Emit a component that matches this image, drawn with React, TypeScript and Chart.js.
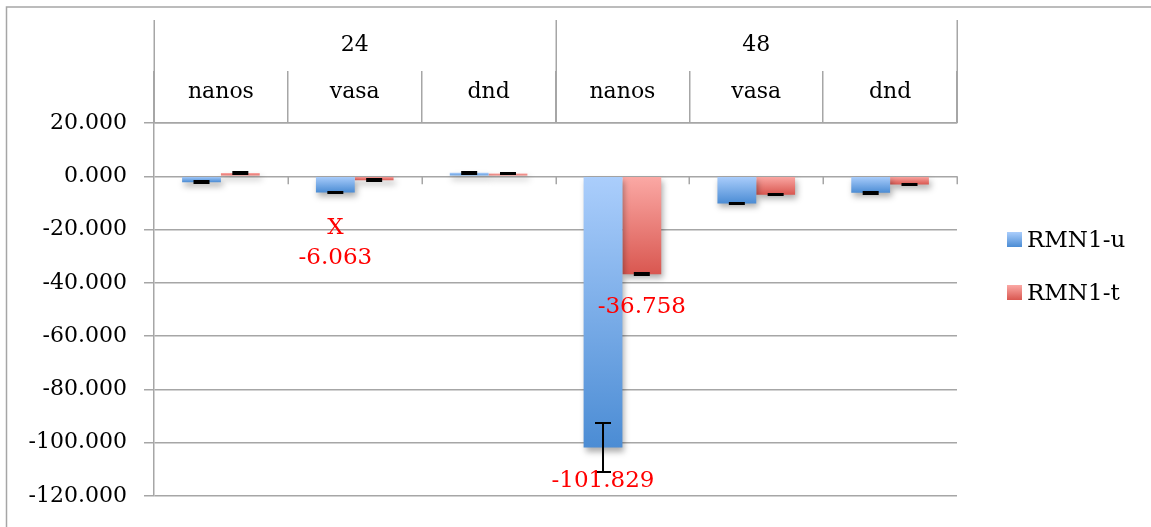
import React, { useEffect, useRef } from 'react';
import { Chart, registerables } from 'chart.js';

Chart.register(...registerables);

// ---------- data ----------
const categories = ['nanos', 'vasa', 'dnd', 'nanos', 'vasa', 'dnd'];
const groups = ['24', '48'];
const groupSize = 3;
const seriesNames = ['RMN1-u', 'RMN1-t'];
const rmn1u = [-2.2, -6.063, 1.3, -101.829, -10.2, -6.2];
const rmn1t = [1.2, -1.5, 1.0, -36.758, -6.9, -3.1];
const errU = [0.3, 0.3, 0.3, 9.3, 0.3, 0.3];
const errT = [0.3, 0.3, 0.3, 0.3, 0.3, 0.3];
const yMin = -120;
const yMax = 20;
const yStep = 20;
// value call-outs: series index, category index, optional extra line above
const callouts = [
  { series: 0, index: 1, extra: 'X' },
  { series: 1, index: 3, extra: '' },
  { series: 0, index: 3, extra: '' },
];

// ---------- styles ----------
const FONT = '"DejaVu Serif", serif';
const GRID = '#a6a6a6';
const GRAD = [
  ['#abcefc', '#4b8cd4'],
  ['#fba9a5', '#d95750'],
];
const calloutStyle = [
  { dx: 0, dy: 66, extraDy: 36 },
  { dx: 0, dy: 33, extraDy: 0 },
  { dx: 0, dy: 33, extraDy: 0 },
];

function barGradient(c: CanvasRenderingContext2D, top: number, bottom: number, s: number) {
  const g = c.createLinearGradient(0, top, 0, bottom);
  g.addColorStop(0, GRAD[s][0]);
  g.addColorStop(1, GRAD[s][1]);
  return g;
}

function bgFor(s: number) {
  return (ctx: any) => {
    const chart = ctx.chart;
    const y = chart.scales && chart.scales.y;
    if (!y || ctx.type !== 'data' || ctx.raw == null) return GRAD[s][1];
    const p0 = y.getPixelForValue(0);
    const p1 = y.getPixelForValue(ctx.raw);
    if (!isFinite(p0) || !isFinite(p1) || p0 === p1) return GRAD[s][1];
    return barGradient(chart.ctx, Math.min(p0, p1), Math.max(p0, p1), s);
  };
}

const errors = [errU, errT];

const decorPlugin = {
  id: 'decor',
  beforeDraw(chart: any) {
    const { ctx } = chart;
    ctx.save();
    ctx.strokeStyle = GRID;
    ctx.lineWidth = 1.5;
    ctx.beginPath();
    ctx.moveTo(6.5, 600);
    ctx.lineTo(6.5, 7);
    ctx.lineTo(1200, 7);
    ctx.stroke();
    ctx.restore();
  },
  beforeDatasetsDraw(chart: any) {
    const { ctx } = chart;
    ctx.save();
    ctx.shadowColor = 'rgba(0,0,0,0.32)';
    ctx.shadowBlur = 6;
    ctx.shadowOffsetX = 2;
    ctx.shadowOffsetY = 4;
  },
  afterDatasetsDraw(chart: any) {
    const { ctx, scales } = chart;
    ctx.restore();
    const y = scales.y;
    // error bars
    ctx.save();
    ctx.strokeStyle = '#000';
    ctx.lineWidth = 2;
    chart.data.datasets.forEach((ds: any, s: number) => {
      const meta = chart.getDatasetMeta(s);
      meta.data.forEach((bar: any, i: number) => {
        const v = ds.data[i];
        const e = errors[s][i];
        const yt = Math.round(y.getPixelForValue(v + e));
        const yb = Math.round(y.getPixelForValue(v - e));
        const x = bar.x;
        ctx.beginPath();
        ctx.moveTo(x, yt);
        ctx.lineTo(x, yb);
        ctx.moveTo(x - 8, yt);
        ctx.lineTo(x + 8, yt);
        ctx.moveTo(x - 8, yb);
        ctx.lineTo(x + 8, yb);
        ctx.stroke();
      });
    });
    ctx.restore();
    // call-outs
    ctx.save();
    ctx.fillStyle = '#ff0000';
    ctx.font = `23px ${FONT}`;
    ctx.textAlign = 'center';
    ctx.textBaseline = 'middle';
    callouts.forEach((c, k) => {
      const st = calloutStyle[k];
      const bar = chart.getDatasetMeta(c.series).data[c.index];
      const v = chart.data.datasets[c.series].data[c.index];
      const yEnd = y.getPixelForValue(v);
      ctx.fillText(v.toFixed(3), bar.x + st.dx, yEnd + st.dy);
      if (c.extra) ctx.fillText(c.extra, bar.x + st.dx, yEnd + st.extraDy);
    });
    ctx.restore();
  },
  afterDraw(chart: any) {
    const { ctx, chartArea, scales } = chart;
    const x = scales.x;
    const y = scales.y;
    const n = categories.length;
    const bound = (i: number) =>
      i <= 0 ? x.left : i >= n ? x.right : (x.getPixelForValue(i - 1) + x.getPixelForValue(i)) / 2;
    ctx.save();
    ctx.strokeStyle = GRID;
    ctx.lineWidth = 1.5;
    // group dividers
    for (let g = 0; g <= groups.length; g++) {
      const px = Math.round(bound(g * groupSize)) + 0.25;
      ctx.beginPath();
      ctx.moveTo(px, 20);
      ctx.lineTo(px, chartArea.top);
      ctx.stroke();
    }
    // tick marks below zero line
    const y0 = y.getPixelForValue(0);
    for (let i = 1; i <= n; i++) {
      const px = Math.round(bound(i)) + 0.25;
      ctx.beginPath();
      ctx.moveTo(px, y0);
      ctx.lineTo(px, y0 + 8);
      ctx.stroke();
    }
    // group labels
    ctx.fillStyle = '#000';
    ctx.font = `22px ${FONT}`;
    ctx.textAlign = 'center';
    ctx.textBaseline = 'middle';
    groups.forEach((gl, g) => {
      const cx = (bound(g * groupSize) + bound((g + 1) * groupSize)) / 2;
      ctx.fillText(gl, cx, 45);
    });
    // legend
    ctx.font = `23px ${FONT}`;
    ctx.textAlign = 'left';
    seriesNames.forEach((name, s) => {
      const top = 232 + s * 53;
      ctx.fillStyle = barGradient(ctx, top, top + 15, s);
      ctx.fillRect(1007, top, 15, 15);
      ctx.fillStyle = '#000';
      ctx.fillText(name, 1027, top + 9);
    });
    ctx.restore();
  },
};

export default function App() {
  const ref = useRef<HTMLCanvasElement>(null);
  useEffect(() => {
    if (!ref.current) return;
    const chart = new Chart(ref.current, {
      type: 'bar',
      data: {
        labels: categories,
        datasets: [
          { label: seriesNames[0], data: rmn1u, backgroundColor: bgFor(0), borderWidth: 0 },
          { label: seriesNames[1], data: rmn1t, backgroundColor: bgFor(1), borderWidth: 0 },
        ],
      },
      options: {
        animation: false,
        responsive: false,
        maintainAspectRatio: false,
        layout: { padding: { left: 0, top: 71, right: 194, bottom: 31 } },
        datasets: { bar: { categoryPercentage: 0.58, barPercentage: 1.0 } },
        plugins: { legend: { display: false }, tooltip: { enabled: false }, title: { display: false } },
        scales: {
          x: {
            type: 'category',
            position: 'top',
            grid: { offset: true, drawOnChartArea: false, tickLength: 52, color: GRID, lineWidth: 1.5 },
            border: { display: true, color: GRID, width: 1.5 },
            ticks: { font: { family: FONT, size: 22 }, color: '#000', padding: -34, maxRotation: 0, autoSkip: false },
            afterFit: (s: any) => { s.height = 52; },
          },
          y: {
            min: yMin,
            max: yMax,
            ticks: {
              stepSize: yStep,
              font: { family: FONT, size: 22 },
              color: '#000',
              padding: 17,
              callback: (v: any) => Number(v).toFixed(3),
            },
            grid: { color: GRID, lineWidth: 1.5, tickLength: 10 },
            border: { display: true, color: GRID, width: 1.5 },
            afterFit: (s: any) => { s.width = 154; },
          },
        },
      },
      plugins: [decorPlugin],
    });
    return () => chart.destroy();
  }, []);
  return (
    <div style={{ position: 'absolute', left: 0, top: 0, width: 1151, height: 527, background: '#fff' }}>
      <canvas ref={ref} width={1151} height={527} style={{ display: 'block' }} />
    </div>
  );
}
